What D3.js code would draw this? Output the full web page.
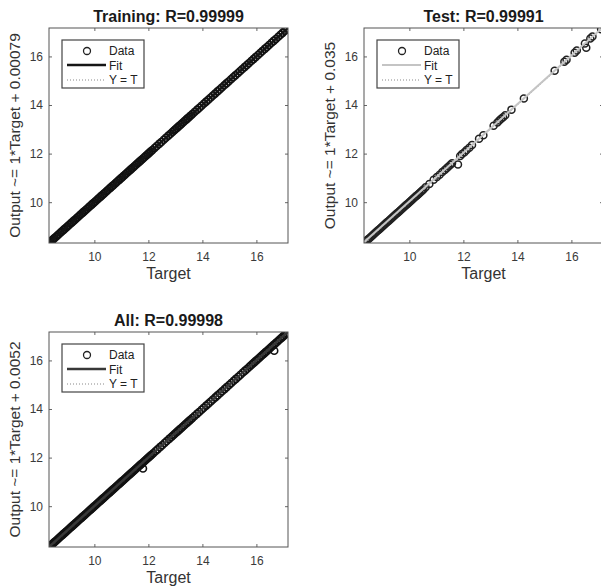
<!DOCTYPE html>
<html>
<head>
<meta charset="utf-8">
<script src="https://cdn.jsdelivr.net/npm/d3@7"></script>
<style>
  body { margin: 0; background: #fff; }
  svg { display: block; font-family: "Liberation Sans", Arial, sans-serif; }
</style>
</head>
<body>
<script>
// axis settings shared by the three regression plots
var tickValues = [10, 12, 14, 16];
var axisMin = 8.32, axisMax = 17.17;

// Training set (target, network output)
var trainTarget = [8.33,8.37,8.42,8.47,8.52,8.58,8.63,8.68,8.74,8.79,8.85,8.90,8.96,9.01,9.06,9.12,9.17,9.23,9.28,9.34,9.39,9.45,9.50,9.56,9.61,9.67,9.72,9.78,9.83,9.89,9.94,10.00,10.05,10.11,10.16,10.22,10.27,10.33,10.38,10.44,10.49,10.55,10.60,10.66,10.71,10.77,10.82,10.88,10.93,10.99,11.04,11.10,11.15,11.21,11.26,11.32,11.37,11.43,11.48,11.54,11.59,11.65,11.70,11.76,11.81,11.87,11.92,11.98,12.03,12.09,12.15,
  12.23,12.31,12.40,12.48,12.57,12.65,12.74,12.82,
  12.89,12.95,13.00,13.06,13.12,13.18,13.23,13.29,13.35,13.41,13.46,13.52,13.58,13.64,
  13.72,13.81,13.89,13.97,14.06,14.14,14.22,14.31,14.39,14.47,14.56,14.64,14.72,14.81,14.89,14.97,15.06,15.14,15.22,15.31,15.39,15.47,15.56,15.64,15.72,15.81,15.89,15.97,16.06,16.14,16.22,16.31,16.39,16.47,16.56,16.64,16.72,16.81,16.89,16.97,17.06,17.15];
var trainOutput = [8.33,8.37,8.42,8.47,8.52,8.58,8.63,8.68,8.74,8.79,8.85,8.90,8.96,9.01,9.06,9.12,9.17,9.23,9.28,9.34,9.39,9.45,9.50,9.56,9.61,9.67,9.72,9.78,9.83,9.89,9.94,10.00,10.05,10.11,10.16,10.22,10.27,10.33,10.38,10.44,10.49,10.55,10.60,10.66,10.71,10.77,10.82,10.88,10.93,10.99,11.04,11.10,11.15,11.21,11.26,11.32,11.37,11.43,11.48,11.54,11.59,11.65,11.70,11.76,11.81,11.87,11.92,11.98,12.03,12.09,12.15,
  12.23,12.31,12.40,12.48,12.57,12.65,12.74,12.82,
  12.89,12.95,13.00,13.06,13.12,13.18,13.23,13.29,13.35,13.41,13.46,13.52,13.58,13.64,
  13.72,13.81,13.89,13.97,14.06,14.14,14.22,14.31,14.39,14.47,14.56,14.64,14.72,14.81,14.89,14.97,15.06,15.14,15.22,15.31,15.39,15.47,15.56,15.64,15.72,15.81,15.89,15.97,16.06,16.14,16.22,16.31,16.39,16.47,16.56,16.64,16.72,16.81,16.89,16.97,17.06,17.15];

// Test set
var testTarget = [8.42,8.47,8.52,8.57,8.62,8.67,8.72,8.77,8.82,8.87,8.92,8.97,9.02,9.07,9.12,9.17,9.22,9.27,9.32,9.37,9.42,9.47,9.52,9.57,9.62,9.67,9.72,9.77,9.82,9.87,9.92,9.97,10.02,10.07,10.12,10.17,10.22,10.27,10.32,10.37,10.42,10.47,10.52,
  10.60,10.74,10.90,11.02,11.12,11.22,11.31,11.38,11.45,11.52,11.58,11.80,11.88,11.95,12.04,12.12,12.22,12.32,12.58,12.74,13.12,13.26,13.33,13.40,13.47,13.55,13.78,14.24,15.38,15.74,15.82,16.12,16.20,16.50,16.55,16.70,16.78,17.10];
var testOutput = [8.42,8.47,8.52,8.57,8.62,8.67,8.72,8.77,8.82,8.87,8.92,8.97,9.02,9.07,9.12,9.17,9.22,9.27,9.32,9.37,9.42,9.47,9.52,9.57,9.62,9.67,9.72,9.77,9.82,9.87,9.92,9.97,10.02,10.07,10.12,10.17,10.22,10.27,10.32,10.37,10.42,10.47,10.52,
  10.61,10.75,10.92,11.04,11.13,11.24,11.32,11.40,11.47,11.54,11.60,11.55,11.90,11.98,12.06,12.15,12.24,12.35,12.61,12.76,13.15,13.28,13.36,13.43,13.50,13.58,13.81,14.27,15.41,15.78,15.86,16.15,16.24,16.53,16.36,16.74,16.82,17.12];

// All data
var allTarget = [8.32,8.37,8.42,8.47,8.52,8.57,8.62,8.67,8.72,8.77,8.82,8.87,8.92,8.97,9.02,9.07,9.12,9.17,9.22,9.27,9.32,9.37,9.42,9.47,9.52,9.57,9.62,9.67,9.72,9.77,9.82,9.87,9.92,9.97,10.02,10.07,10.12,10.17,10.22,10.27,10.32,10.37,10.42,10.47,10.52,10.57,10.62,10.67,10.72,10.77,10.82,10.87,10.92,10.97,11.02,11.07,11.12,11.17,11.22,11.27,11.32,11.37,11.42,11.47,11.52,11.57,11.62,11.67,11.72,11.77,11.82,11.87,11.92,11.97,12.02,12.07,12.12,12.18,
  12.26,12.34,12.43,12.51,12.60,12.68,12.77,12.85,
  12.91,12.97,13.03,13.09,13.15,13.21,13.27,13.33,13.39,13.45,13.51,13.57,13.63,
  13.71,13.80,13.88,13.97,14.05,14.14,14.22,14.31,14.39,14.48,14.56,14.65,14.73,14.82,14.90,14.99,15.07,15.16,15.24,15.33,15.41,15.50,15.58,15.66,15.74,
  15.80,15.86,15.92,15.98,16.04,16.10,16.16,16.22,16.28,16.34,16.40,16.46,16.52,16.58,16.64,16.70,16.76,16.82,16.88,16.94,17.00,17.06,17.12,
  11.80,16.66];
var allOutput = [8.32,8.37,8.42,8.47,8.52,8.57,8.62,8.67,8.72,8.77,8.82,8.87,8.92,8.97,9.02,9.07,9.12,9.17,9.22,9.27,9.32,9.37,9.42,9.47,9.52,9.57,9.62,9.67,9.72,9.77,9.82,9.87,9.92,9.97,10.02,10.07,10.12,10.17,10.22,10.27,10.32,10.37,10.42,10.47,10.52,10.57,10.62,10.67,10.72,10.77,10.82,10.87,10.92,10.97,11.02,11.07,11.12,11.17,11.22,11.27,11.32,11.37,11.42,11.47,11.52,11.57,11.62,11.67,11.72,11.77,11.82,11.87,11.92,11.97,12.02,12.07,12.12,12.18,
  12.26,12.34,12.43,12.51,12.60,12.68,12.77,12.85,
  12.91,12.97,13.03,13.09,13.15,13.21,13.27,13.33,13.39,13.45,13.51,13.57,13.63,
  13.71,13.80,13.88,13.97,14.05,14.14,14.22,14.31,14.39,14.48,14.56,14.65,14.73,14.82,14.90,14.99,15.07,15.16,15.24,15.33,15.41,15.50,15.58,15.66,15.74,
  15.80,15.86,15.92,15.98,16.04,16.10,16.16,16.22,16.28,16.34,16.40,16.46,16.52,16.58,16.64,16.70,16.76,16.82,16.88,16.94,17.00,17.06,17.12,
  11.55,16.40];

var titles = ["Training: R=0.99999", "Test: R=0.99991", "All: R=0.99998"];
var fitSlopes = [1, 1, 1];
var fitIntercepts = [0.00079, 0.035, 0.0052];
var yLabels = ["Output ~= 1*Target + 0.00079", "Output ~= 1*Target + 0.035", "Output ~= 1*Target + 0.0052"];
var legendLabels = ["Data", "Fit", "Y = T"];

var W = 601, H = 588;
var boxW = 239, boxH = 215;

var panels = [
  { left: 49,  top: 28,  target: trainTarget, output: trainOutput, fitColor: "#151515", fitWidth: 2.5, dotColor: "#111", dotWidth: 1.6 },
  { left: 364, top: 28,  target: testTarget,  output: testOutput,  fitColor: "#c4c4c4", fitWidth: 2, dotColor: "#222", dotWidth: 1.5 },
  { left: 49,  top: 332, target: allTarget,   output: allOutput,   fitColor: "#383838", fitWidth: 2.5, dotColor: "#111", dotWidth: 1.6 }
];

var svg = d3.select("body").append("svg")
  .attr("width", W)
  .attr("height", H);

panels.forEach(function(p, i) {
  var x = d3.scaleLinear().domain([axisMin, axisMax]).range([0, boxW]);
  var y = d3.scaleLinear().domain([axisMin, axisMax]).range([boxH, 0]);

  var g = svg.append("g").attr("transform", "translate(" + p.left + "," + p.top + ")");

  // clip marks to the axes box
  g.append("clipPath").attr("id", "clip" + i)
    .append("rect").attr("width", boxW).attr("height", boxH);

  var plot = g.append("g").attr("clip-path", "url(#clip" + i + ")");

  // Y = T (under the markers)
  var ident = d3.line().x(function(d) { return x(d); }).y(function(d) { return y(d); });
  plot.append("path")
    .attr("d", ident([axisMin, axisMax]))
    .style("fill", "none")
    .style("stroke", "#888")
    .style("stroke-width", 1)
    .style("stroke-dasharray", "1,2");

  // data circles
  var pts = d3.zip(p.target, p.output);
  plot.selectAll("circle")
    .data(pts)
    .enter()
    .append("circle")
    .attr("cx", function(d) { return x(d[0]); })
    .attr("cy", function(d) { return y(d[1]); })
    .attr("r", 3.5)
    .style("fill", "none")
    .style("stroke", p.dotColor)
    .style("stroke-width", p.dotWidth);

  // fit line
  var line = d3.line().x(function(d) { return x(d); })
    .y(function(d) { return y(fitSlopes[i] * d + fitIntercepts[i]); });
  plot.append("path")
    .attr("d", line([axisMin, axisMax]))
    .style("fill", "none")
    .style("stroke", p.fitColor)
    .style("stroke-width", p.fitWidth);

  // axes, ticks pointing inward on all four sides
  var axB = g.append("g").attr("transform", "translate(0," + boxH + ")")
    .call(d3.axisBottom(x).tickValues(tickValues).tickSize(-3).tickPadding(9).tickFormat(d3.format("d")));
  var axL = g.append("g")
    .call(d3.axisLeft(y).tickValues(tickValues).tickSize(-3).tickPadding(6).tickFormat(d3.format("d")));
  var axT = g.append("g")
    .call(d3.axisTop(x).tickValues(tickValues).tickSize(-3).tickFormat(""));
  var axR = g.append("g").attr("transform", "translate(" + boxW + ",0)")
    .call(d3.axisRight(y).tickValues(tickValues).tickSize(-3).tickFormat(""));

  [axB, axL, axT, axR].forEach(function(a) {
    a.select(".domain").remove();
    a.selectAll(".tick line").style("stroke", "#666");
    a.selectAll(".tick text")
      .style("font-family", '"Liberation Sans", Arial, sans-serif')
      .style("font-size", "12px")
      .style("fill", "#3a3a3a");
  });

  g.append("rect")
    .attr("width", boxW)
    .attr("height", boxH)
    .style("fill", "none")
    .style("stroke", "#555")
    .style("stroke-width", 1);

  // title and labels
  g.append("text")
    .attr("x", boxW / 2)
    .attr("y", -6)
    .attr("text-anchor", "middle")
    .style("font-size", "16px")
    .style("font-weight", "bold")
    .style("fill", "#1a1a1a")
    .text(titles[i]);

  g.append("text")
    .attr("x", boxW / 2)
    .attr("y", boxH + 36)
    .attr("text-anchor", "middle")
    .style("font-size", "16px")
    .style("fill", "#333")
    .text("Target");

  g.append("text")
    .attr("transform", "translate(-34," + (boxH / 2) + ") rotate(-90)")
    .attr("text-anchor", "middle")
    .attr("dy", "0.35em")
    .style("font-size", "15.5px")
    .style("fill", "#333")
    .text(yLabels[i]);

  // legend
  var lg = g.append("g").attr("transform", "translate(13,12)");
  lg.append("rect")
    .attr("width", 82)
    .attr("height", 48)
    .style("fill", "#fff")
    .style("stroke", "#444")
    .style("stroke-width", 1.2);
  lg.append("circle")
    .attr("cx", 25).attr("cy", 11).attr("r", 3.5)
    .style("fill", "none").style("stroke", "#222").style("stroke-width", 1.3);
  lg.append("line")
    .attr("x1", 5).attr("x2", 44).attr("y1", 25).attr("y2", 25)
    .style("stroke", p.fitColor).style("stroke-width", p.fitWidth);
  lg.append("line")
    .attr("x1", 5).attr("x2", 44).attr("y1", 40).attr("y2", 40)
    .style("stroke", "#888").style("stroke-width", 1).style("stroke-dasharray", "1,2");
  lg.selectAll("text.lab")
    .data(legendLabels)
    .enter()
    .append("text")
    .attr("class", "lab")
    .attr("x", 47)
    .attr("y", function(d, k) { return 11 + k * 14.5; })
    .attr("dy", "0.35em")
    .style("font-size", "12px")
    .style("fill", "#222")
    .text(function(d) { return d; });
});
</script>
</body>
</html>
